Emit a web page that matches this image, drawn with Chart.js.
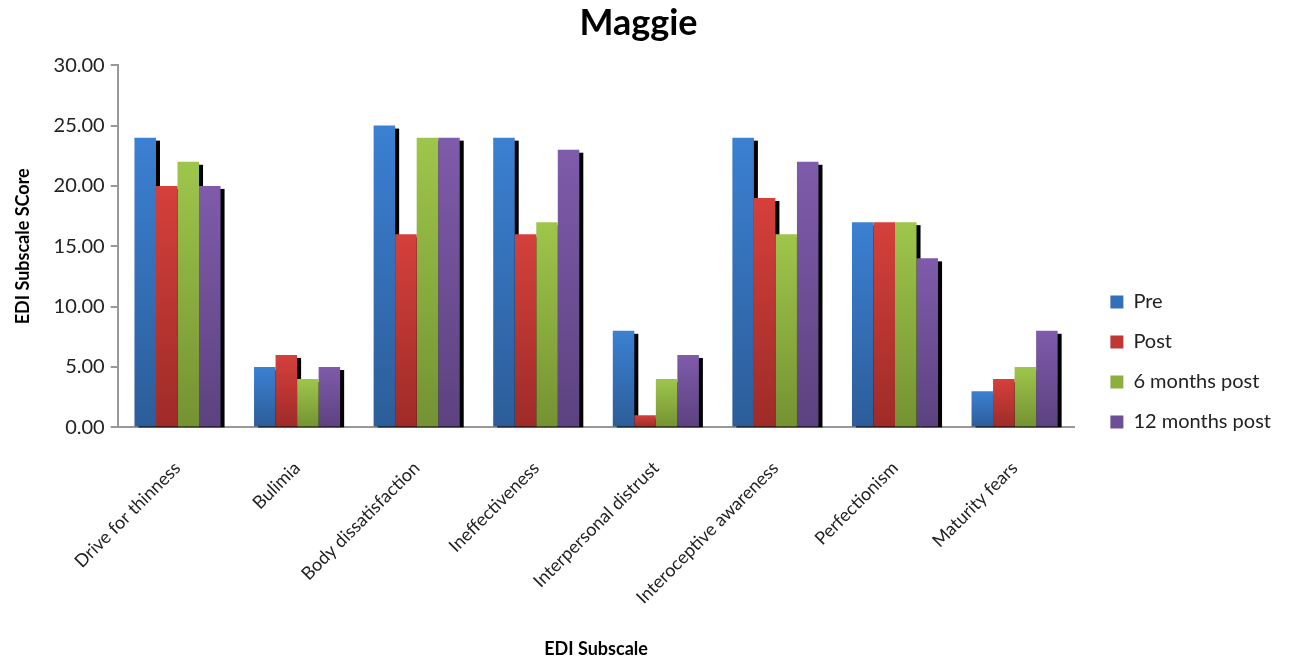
<!DOCTYPE html>
<html>
<head>
<meta charset="utf-8">
<script src="https://cdn.jsdelivr.net/npm/chart.js@4.4.0/dist/chart.umd.min.js"></script>
<style>
  html, body { margin: 0; padding: 0; background: #fff; }
  #wrap { width: 1289px; height: 660px; }
</style>
</head>
<body>
<div id="wrap"><canvas id="chart"></canvas></div>
<script>
// EDI subscale scores for Maggie
const subscales = ['Drive for thinness', 'Bulimia', 'Body dissatisfaction', 'Ineffectiveness',
  'Interpersonal distrust', 'Interoceptive awareness', 'Perfectionism', 'Maturity fears'];
const pre = [24, 5, 25, 24, 8, 24, 17, 3];
const post = [20, 6, 16, 16, 1, 19, 17, 4];
const sixMonths = [22, 4, 24, 17, 4, 16, 17, 5];
const twelveMonths = [20, 5, 24, 23, 6, 22, 14, 8];

const font = 'Lato, "Open Sans", sans-serif';

// top / bottom colours of each bar gradient
function barFill(top, bottom) {
  return ctx => {
    const chart = ctx.chart;
    if (!chart.chartArea || ctx.raw == null) return top;
    const y = chart.scales.y;
    const y0 = y.getPixelForValue(ctx.raw);
    const y1 = y.getPixelForValue(0);
    if (!isFinite(y0) || y1 - y0 < 1) return top;
    const g = chart.ctx.createLinearGradient(0, y0, 0, y1);
    g.addColorStop(0, top);
    g.addColorStop(1, bottom);
    return g;
  };
}

// black offset shadows, drawn under all bars so neighbours cover them
const shadow = {
  id: 'shadow',
  beforeDatasetsDraw(chart) {
    const c = chart.ctx;
    const bottom = chart.scales.y.getPixelForValue(0);
    c.save();
    c.fillStyle = '#000';
    chart.data.datasets.forEach((d, i) => {
      chart.getDatasetMeta(i).data.forEach(bar => {
        const { x, y, width } = bar.getProps(['x', 'y', 'width'], true);
        c.fillRect(x - width / 2 + 4, y + 3, width, bottom - y - 3);
      });
    });
    c.restore();
  }
};

// push the legend a bit to the right, leaving a wider gap after the plot
const legendGap = {
  id: 'legendGap',
  afterLayout(chart) {
    if (chart.legend) {
      chart.legend.left += 16;
      chart.legend.right += 16;
    }
  }
};

const mk = (label, data, top, bottom) => ({
  label, data,
  backgroundColor: barFill(top, bottom),
  borderWidth: 0,
  barPercentage: 1,
  categoryPercentage: 0.72
});

new Chart(document.getElementById('chart'), {
  type: 'bar',
  data: {
    labels: subscales,
    datasets: [
      mk('Pre', pre, '#3b80d2', '#2c5d99'),
      mk('Post', post, '#d5403b', '#9e2b28'),
      mk('6 months post', sixMonths, '#9ec64b', '#749232'),
      mk('12 months post', twelveMonths, '#7f5bab', '#5c427f')
    ]
  },
  options: {
    responsive: true,
    maintainAspectRatio: false,
    animation: false,
    layout: { padding: { left: 12, right: 24, top: 0, bottom: 0 } },
    plugins: {
      title: {
        display: true,
        text: 'Maggie',
        color: '#000',
        font: { family: font, size: 36, weight: 'bold' },
        padding: { top: 2, bottom: 20 }
      },
      legend: {
        position: 'right',
        align: 'center',
        title: {
          display: true, text: '',
          font: { size: 10 },
          padding: { top: 26, bottom: 26 }
        },
        labels: {
          boxWidth: 13,
          boxHeight: 13,
          padding: 20,
          color: '#222',
          font: { family: font, size: 20 },
          generateLabels(chart) {
            const cols = ['#3470b8', '#bf3834', '#8bb040', '#6d4f96'];
            return chart.data.datasets.map((d, i) => ({
              text: d.label, fillStyle: cols[i], strokeStyle: cols[i],
              lineWidth: 0, datasetIndex: i, fontColor: '#222'
            }));
          }
        }
      },
      tooltip: { enabled: false }
    },
    scales: {
      x: {
        grid: { drawOnChartArea: false, drawTicks: false },
        border: { color: '#999', width: 2 },
        ticks: {
          minRotation: 45, maxRotation: 45,
          color: '#222', padding: 30,
          font: { family: font, size: 18 }
        },
        title: {
          display: true, text: 'EDI Subscale', color: '#000',
          font: { family: font, size: 18, weight: 'bold' },
          padding: { top: 0, bottom: 0 }
        }
      },
      y: {
        min: 0, max: 30,
        grid: { drawOnChartArea: false, drawTicks: true, tickLength: 7, color: '#999', lineWidth: 2 },
        border: { color: '#999', width: 2 },
        ticks: {
          stepSize: 5, color: '#222', padding: 6,
          font: { family: font, size: 20 },
          callback: v => Number(v).toFixed(2)
        },
        title: {
          display: true, text: 'EDI Subscale SCore', color: '#000',
          font: { family: font, size: 18, weight: 'bold' },
          padding: { top: 0, bottom: 14 }
        }
      }
    }
  },
  plugins: [shadow, legendGap]
});
</script>
</body>
</html>
